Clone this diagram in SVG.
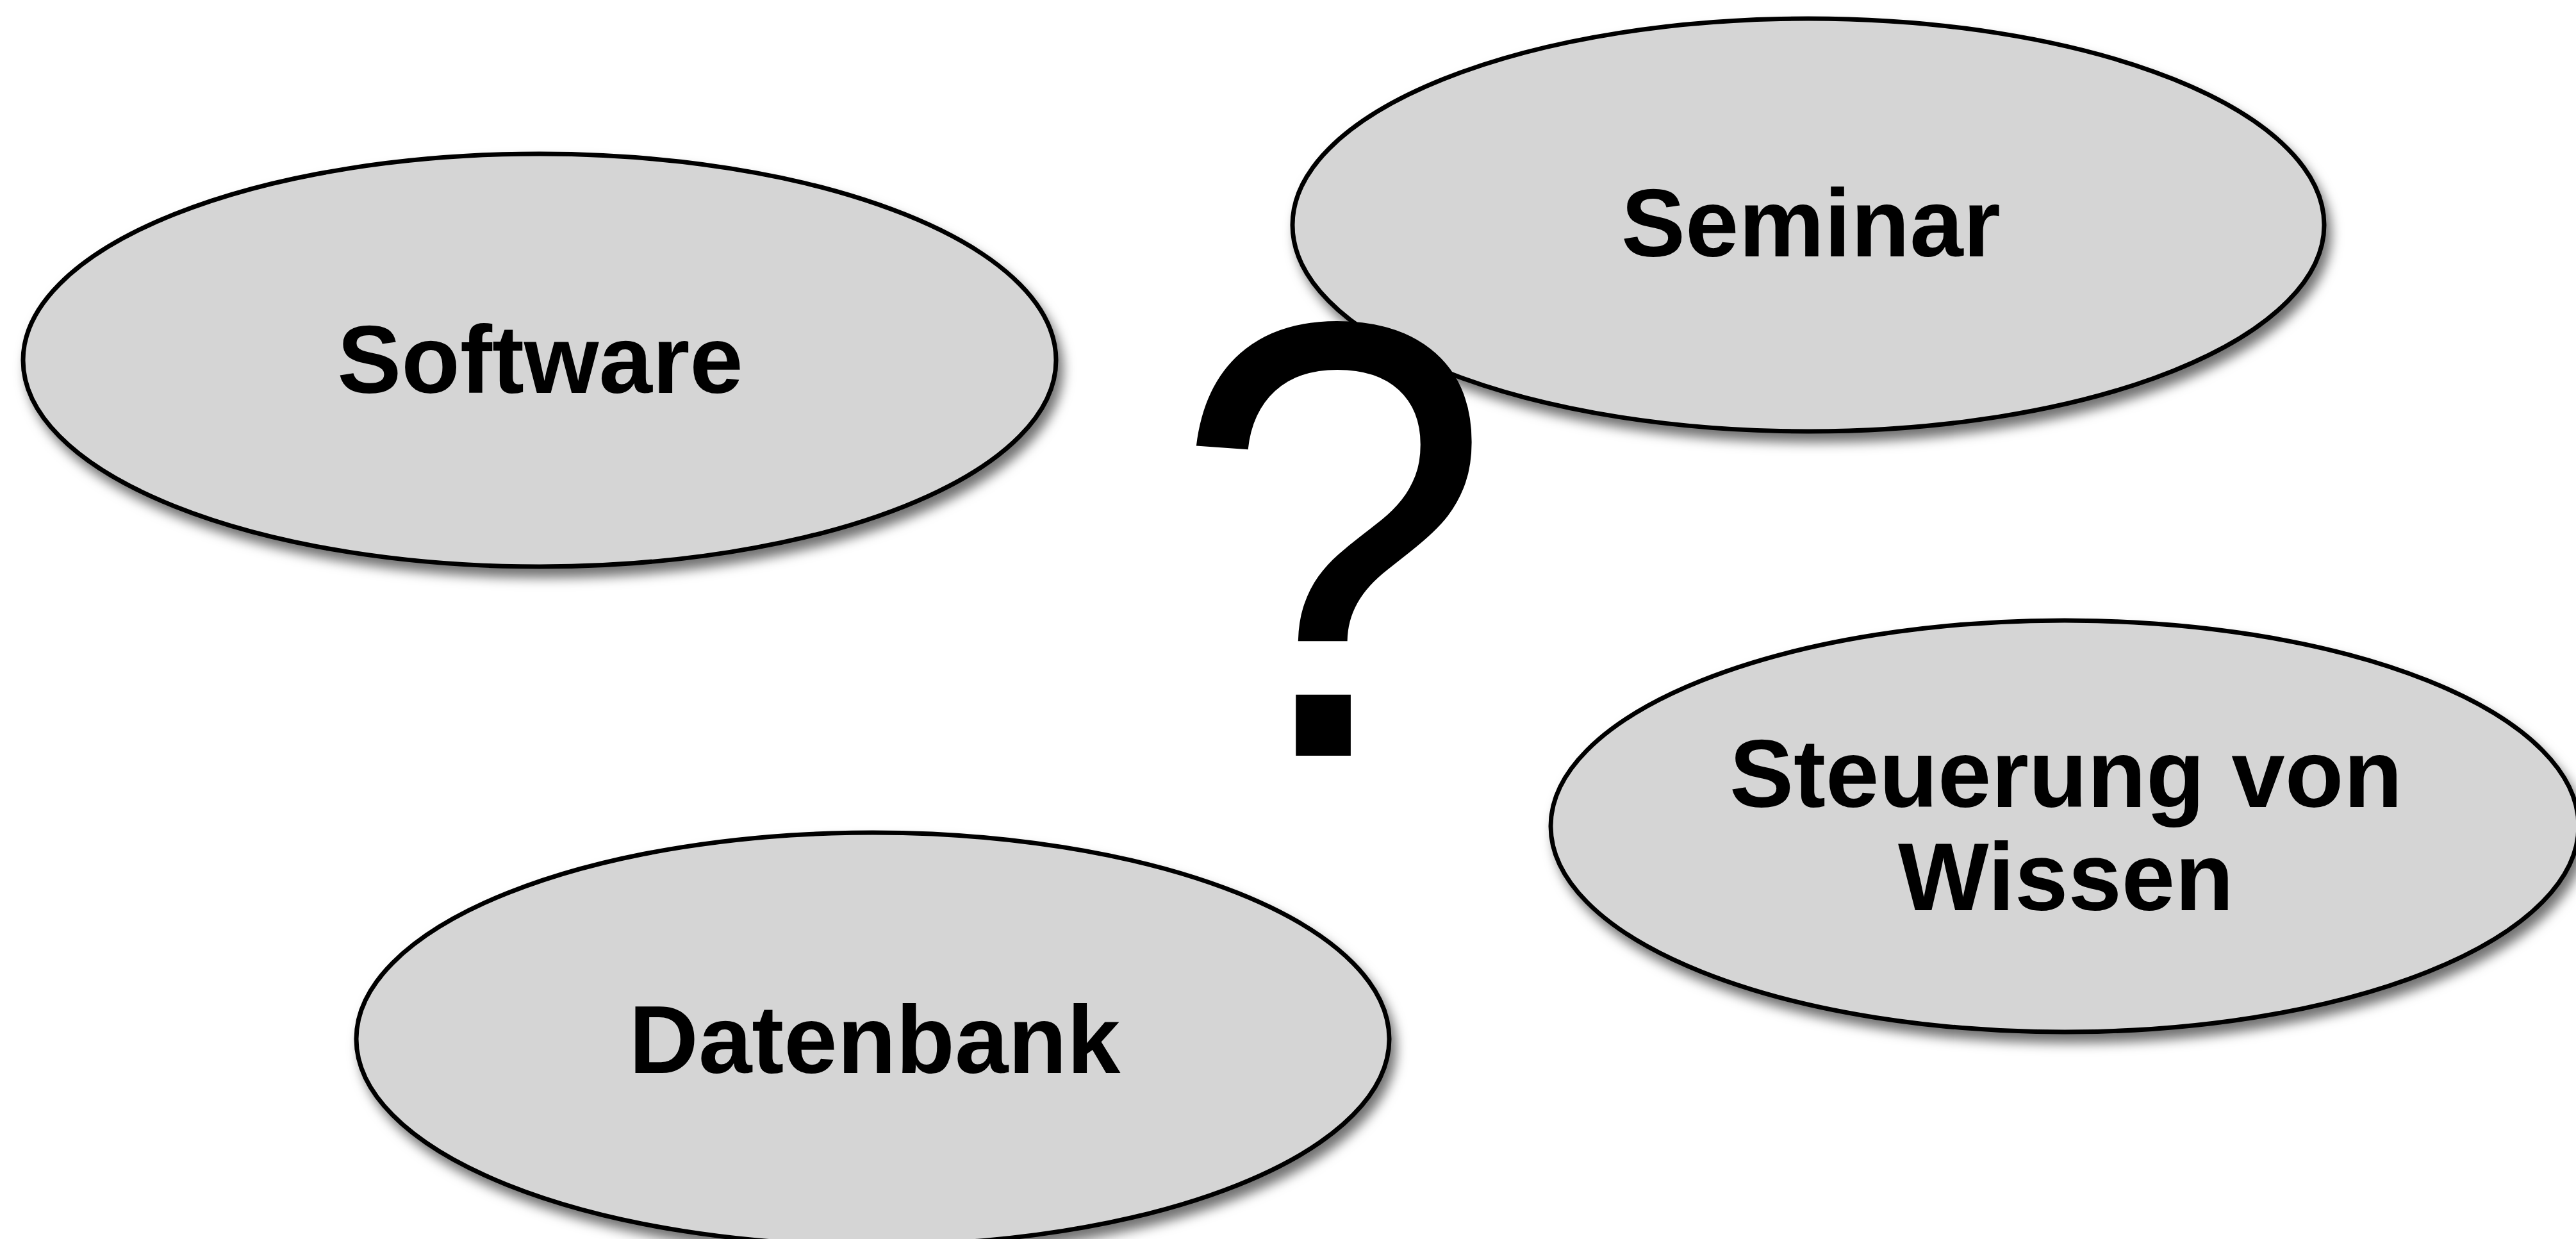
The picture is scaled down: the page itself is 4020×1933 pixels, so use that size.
<svg xmlns="http://www.w3.org/2000/svg" width="4020" height="1933" viewBox="0 0 4020 1933">
  <style>
    .bubble { fill: #d5d5d5; stroke: #000; stroke-width: 7; filter: url(#shadow); }
    .label { font-family: "Liberation Sans", Arial, sans-serif; font-weight: bold; font-size: 150px; fill: #000; text-anchor: middle; }
    .mark { font-family: "Liberation Sans", Arial, sans-serif; font-size: 899px; fill: #000; text-anchor: middle; }
  </style>
  <defs>
    <filter id="shadow" x="-10%" y="-10%" width="125%" height="130%">
      <feDropShadow dx="8" dy="14" stdDeviation="9" flood-color="#000" flood-opacity="0.55"/>
    </filter>
  </defs>
  <rect width="4020" height="1933" fill="#fff"/>

  <g id="software">
    <ellipse class="bubble" cx="842" cy="562" rx="806" ry="322"/>
    <text class="label" x="843" y="613">Software</text>
  </g>

  <g id="seminar">
    <ellipse class="bubble" cx="2822" cy="351" rx="805" ry="322"/>
    <text class="label" x="2826" y="400">Seminar</text>
  </g>

  <g id="steuerung">
    <ellipse class="bubble" cx="3222" cy="1289" rx="802" ry="321"/>
    <text class="label" x="3224" y="1259">Steuerung von</text>
    <text class="label" x="3224" y="1420">Wissen</text>
  </g>

  <g id="datenbank">
    <ellipse class="bubble" cx="1362" cy="1621" rx="806" ry="322"/>
    <text class="label" x="1365" y="1674">Datenbank</text>
  </g>

  <!-- large question mark, stretched vertically, drawn over the bubbles -->
  <g id="question">
    <text class="mark" transform="translate(2080,1179) scale(1,1.08)" x="0" y="0">?</text>
  </g>

  <g id="connectors"/>
</svg>
